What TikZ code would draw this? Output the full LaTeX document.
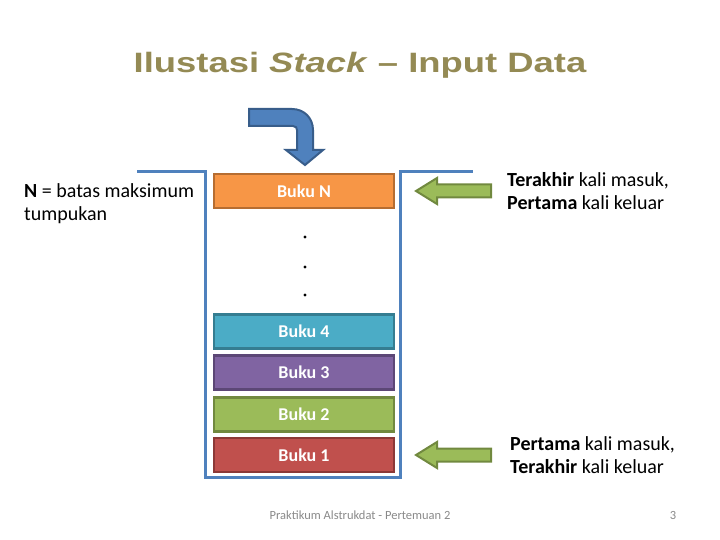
\documentclass[tikz,border=0pt]{standalone}
\usepackage{fontspec}
\setmainfont{Carlito}
\newfontfamily\arialf[FakeStretch=1.3]{Liberation Sans}
\definecolor{olive}{HTML}{948A54}
\definecolor{wallblue}{HTML}{4F81BD}
\definecolor{darkblue}{HTML}{385D8A}
\definecolor{orgF}{HTML}{F79646}\definecolor{orgD}{HTML}{B66D31}
\definecolor{cyaF}{HTML}{4BACC6}\definecolor{cyaD}{HTML}{357D91}
\definecolor{purF}{HTML}{8064A2}\definecolor{purD}{HTML}{5C4776}
\definecolor{grnF}{HTML}{9BBB59}\definecolor{grnD}{HTML}{71893F}
\definecolor{redF}{HTML}{C0504D}\definecolor{redD}{HTML}{8C3836}
\definecolor{footgray}{HTML}{898989}
\begin{document}
\begin{tikzpicture}[x=1pt,y=-1pt,
  book/.style={draw=#1D,fill=#1F,line width=2.5pt,minimum width=180pt,minimum height=34pt,inner sep=0pt,
    text=white,font=\fontsize{18}{21}\selectfont\bfseries},
  side/.style={align=left,anchor=west,inner sep=0pt,font=\fontsize{20}{23}\selectfont},
  garrow/.style={fill=grnF,draw=grnD,line width=2pt,line join=miter}]
\useasboundingbox (0,0) rectangle (720,540);
\node[font=\arialf\bfseries\fontsize{28}{33}\selectfont,text=olive,inner sep=0pt,anchor=base] (title) at (360,73) {Ilustasi \textit{Stack} – Input Data};
% container
\draw[wallblue,line width=3pt] (137,172) -- (205,172) -- (205,477) -- (400,477) -- (400,172) -- (473,172);
% books
\node[book=org] (bn) at (304,191) {Buku N};
\node[book=cya] (b4) at (304,331.5) {Buku 4};
\node[book=pur] (b3) at (304,372.5) {Buku 3};
\node[book=grn] (b2) at (304,414.5) {Buku 2};
\node[book=red] (b1) at (304,455) {Buku 1};
% dots
\foreach \y in {237,267,295} \fill (305,\y) circle (1.6pt);
% bent arrow
\draw[fill=wallblue,draw=darkblue,line width=2pt,line join=miter]
  (249,109) -- (292,109) .. controls (304,109) and (313,118) .. (313,130) -- (313,150) -- (323,150) -- (305,165) -- (286,150) -- (297,150)
  -- (297,130) .. controls (297,128) and (296,126) .. (293,126) -- (249,126) -- cycle;
% green arrows
\draw[garrow] (416,191) -- (437,178) -- (437,184.5) -- (491,184.5) -- (491,197.5) -- (437,197.5) -- (437,204) -- cycle;
\draw[garrow] (416,455) -- (437,442) -- (437,448.5) -- (491,448.5) -- (491,461.5) -- (437,461.5) -- (437,468) -- cycle;
% texts
\node[side] (t1) at (507,191) {\textbf{Terakhir} kali masuk,\\\textbf{Pertama} kali keluar};
\node[side] (t2) at (510,455) {\textbf{Pertama} kali masuk,\\\textbf{Terakhir} kali keluar};
\node[side] (tn) at (24,204) {\textbf{N} = batas maksimum\\tumpukan};
\node[font=\fontsize{12.5}{15}\selectfont,text=footgray,inner sep=0pt] (foot) at (360,515) {Praktikum Alstrukdat - Pertemuan 2};
\node[font=\fontsize{12.5}{15}\selectfont,text=footgray,inner sep=0pt] (pg) at (673,515) {3};
\end{tikzpicture}
\end{document}
